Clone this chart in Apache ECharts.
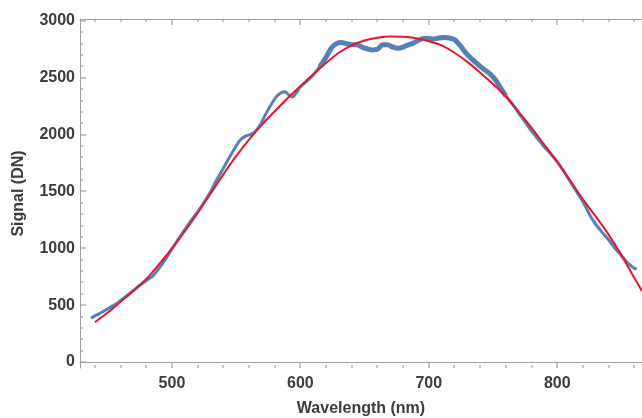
<!DOCTYPE html>
<html>
<head>
<meta charset="utf-8">
<script src="https://cdn.jsdelivr.net/npm/echarts@6/dist/echarts.min.js"></script>
<style>html,body{margin:0;padding:0;background:#fff}#c{width:642px;height:418px}</style>
</head>
<body>
<div id="c"></div>
<script>
// Measured signal (blue)
const dataWavelength = [437,440,445,450,455,460,465,470,475,480,485,490,495,500,505,510,515,520,525,530,535,540,545,550,553,557,561,565,569,573,577,581,585,588,591,594,597,600,605,610,615,620,624,628,632,636,640,644,648,652,656,660,664,668,672,676,680,684,688,692,696,700,704,708,712,716,720,724,728,732,736,740,744,748,752,756,760,765,770,775,780,785,790,795,800,805,810,815,820,825,830,835,840,845,850,855,860,862];
const dataSignal = [385,405,435,468,500,540,585,630,675,715,755,825,905,995,1080,1165,1245,1320,1405,1495,1605,1705,1805,1900,1950,1985,2000,2030,2090,2180,2260,2330,2368,2378,2350,2330,2370,2420,2470,2525,2595,2680,2760,2800,2810,2800,2790,2790,2770,2755,2745,2750,2790,2790,2770,2760,2770,2790,2805,2830,2845,2845,2840,2850,2855,2850,2835,2790,2730,2680,2640,2600,2565,2530,2480,2410,2340,2270,2190,2110,2030,1960,1890,1830,1760,1680,1590,1500,1410,1300,1210,1140,1075,1000,935,870,825,820];
// Fitted curve (red)
const fitWavelength = [440,450,460,470,480,490,500,510,520,530,540,550,560,570,580,590,600,610,620,630,640,650,660,670,680,690,700,710,720,730,740,750,760,770,780,790,800,810,820,830,840,850,860,866];
const fitSignal = [350,435,530,625,730,860,1000,1150,1310,1480,1650,1810,1955,2085,2205,2320,2425,2530,2630,2720,2785,2828,2852,2862,2860,2848,2822,2785,2720,2640,2545,2445,2335,2200,2060,1910,1760,1595,1430,1280,1120,940,740,625];
// Axis ticks
const xTickLabels = [500,600,700,800];
const xMinorTicks = [440,460,480,520,540,560,580,620,640,660,680,720,740,760,780,820,840,860];
const yTickLabels = [0,500,1000,1500,2000,2500,3000];
const yMinorTicks = [100,200,300,400,600,700,800,900,1100,1200,1300,1400,1600,1700,1800,1900,2100,2200,2300,2400,2600,2700,2800,2900];

const X_MIN = 428.4, X_MAX = 866, Y_MIN = -53, Y_MAX = 3017;
const axisColor = '#a0a0a0';
const tickColor = '#8a8a8a';
const labelStyle = {color:'#3c3c3c', fontSize:16, fontWeight:'bold', fontFamily:'Liberation Sans, Arial, sans-serif'};

const dataPts = dataWavelength.map((w,i)=>[w,dataSignal[i]]);
const bandPts = dataPts.filter(p=>p[0]>=612 && p[0]<=762);
const fitPts = fitWavelength.map((w,i)=>[w,fitSignal[i]]);

const chart = echarts.init(document.getElementById('c'), null, {renderer:'canvas'});
chart.setOption({
  animation:false,
  grid:{left:80, right:0, top:19, bottom:50, containLabel:false, outerBoundsMode:'none'},
  xAxis:[
    {type:'value', position:'bottom', min:X_MIN, max:X_MAX,
     name:'Wavelength (nm)', nameLocation:'middle', nameGap:33, nameTextStyle:labelStyle,
     axisLine:{show:true, lineStyle:{color:axisColor}}, axisTick:{show:false},
     axisLabel:Object.assign({margin:8, customValues:xTickLabels, formatter:v=>String(v)}, labelStyle),
     splitLine:{show:false}},
    {type:'value', position:'top', min:X_MIN, max:X_MAX,
     axisLine:{show:true, lineStyle:{color:axisColor}}, axisTick:{show:false}, axisLabel:{show:false}, splitLine:{show:false}}
  ],
  yAxis:[
    {type:'value', position:'left', min:Y_MIN, max:Y_MAX,
     name:'Signal (DN)', nameLocation:'middle', nameGap:53, nameRotate:90, nameTextStyle:labelStyle,
     axisLine:{show:true, lineStyle:{color:axisColor}}, axisTick:{show:false},
     axisLabel:Object.assign({margin:5, customValues:yTickLabels, formatter:v=>String(v)}, labelStyle),
     splitLine:{show:false}}
  ],
  series:[
    {type:'line', data:dataPts, showSymbol:false, smooth:0.2, clip:true, lineStyle:{color:'#5580b8', width:3}, z:2},
    {type:'line', data:bandPts, showSymbol:false, smooth:0.2, clip:true, lineStyle:{color:'#5580b8', width:5}, z:2},
    {type:'line', data:fitPts, showSymbol:false, smooth:0.3, clip:true, lineStyle:{color:'#e8142a', width:2}, z:3}
  ]
});

// Inward tick marks, placed through the axis scales
const px = v => chart.convertToPixel({xAxisIndex:0}, v);
const py = v => chart.convertToPixel({yAxisIndex:0}, v);
const xL = Math.round(px(X_MIN)), yB = Math.round(py(Y_MIN)), yT = Math.round(py(Y_MAX));
const g = [];
function tick(x1,y1,x2,y2){
  g.push({type:'line', shape:{x1:x1, y1:y1, x2:x2, y2:y2}, style:{stroke:tickColor, lineWidth:1}});
}
yTickLabels.forEach(v=>{ const y=Math.round(py(v)); tick(xL,y,xL+6,y); });
yMinorTicks.forEach(v=>{ const y=Math.round(py(v)); tick(xL,y,xL+3,y); });
xTickLabels.forEach(v=>{ const x=Math.round(px(v)); tick(x,yB,x,yB-6); tick(x,yT,x,yT+6); });
xMinorTicks.forEach(v=>{ const x=Math.round(px(v)); tick(x,yB,x,yB-3); tick(x,yT,x,yT+3); });
chart.setOption({graphic:g});
</script>
</body>
</html>
